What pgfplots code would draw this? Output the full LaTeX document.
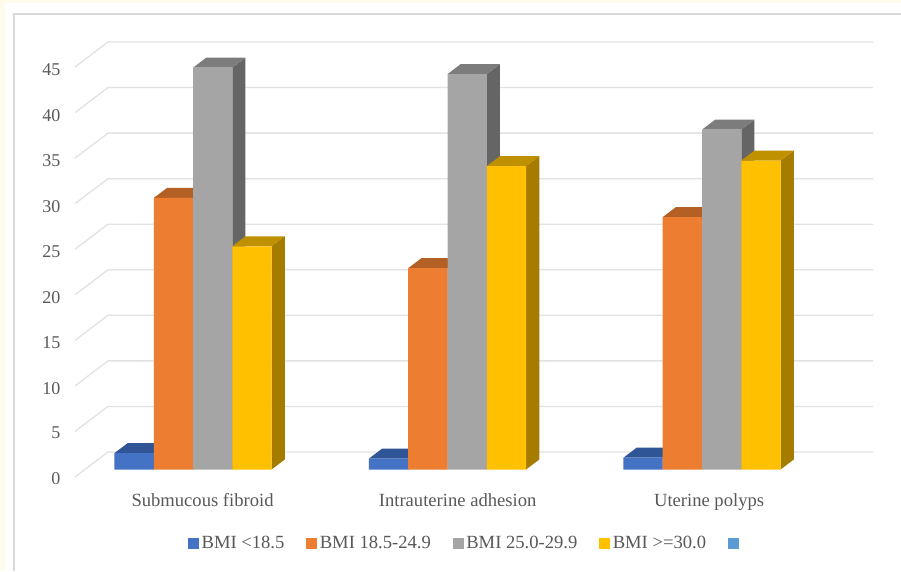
\documentclass[border=0pt]{standalone}
\usepackage{pgfplots}
\usepackage{pgfplotstable}
\usepackage{fontspec}
\setmainfont{Liberation Serif}
\pgfplotsset{compat=1.18}

\definecolor{txt}{HTML}{595959}
\definecolor{gridc}{HTML}{E2E2E2}
\definecolor{framec}{HTML}{D9D9D9}
\definecolor{creamc}{HTML}{FFFBEA}
\definecolor{blueF}{HTML}{4472C4}
\definecolor{blueT}{HTML}{2F5597}
\definecolor{orangeF}{HTML}{ED7D31}
\definecolor{orangeT}{HTML}{B45F23}
\definecolor{orangeS}{HTML}{9E5324}
\definecolor{grayF}{HTML}{A5A5A5}
\definecolor{grayT}{HTML}{7C7C7C}
\definecolor{grayS}{HTML}{656565}
\definecolor{yellowF}{HTML}{FFC000}
\definecolor{yellowT}{HTML}{BF9000}
\definecolor{yellowS}{HTML}{A67C00}
\definecolor{extraF}{HTML}{5B9BD5}

% left edge of each bar (category units) and its percentage
\pgfplotstableread{
left value
-0.384 1.8
0.614 1.2
1.612 1.3
}\seriesUnder
\pgfplotstableread{
left value
-0.230 29.8
0.768 22.1
1.766 27.7
}\seriesNormal
\pgfplotstableread{
left value
-0.076 44.1
0.922 43.4
1.920 37.3
}\seriesOver
\pgfplotstableread{
left value
0.078 24.5
1.076 33.3
2.074 33.9
}\seriesObese

% Draws one series as boxes: side, top, then front face of each bar
\newcommand{\drawseries}[4]{%
  \pgfplotstablegetrowsof{#1}%
  \pgfmathtruncatemacro{\lastrow}{\pgfplotsretval-1}%
  \pgfplotsforeachungrouped \rowi in {0,...,\lastrow}{%
    \pgfplotstablegetelem{\rowi}{left}\of{#1}\let\barL\pgfplotsretval
    \pgfplotstablegetelem{\rowi}{value}\of{#1}\let\barV\pgfplotsretval
    \pgfmathsetmacro{\barR}{\barL+0.154}%
    \edef\temp{%
      \noexpand\addplot3[forget plot,draw=none,fill=#4,mark=none] coordinates
        {(\barR,0.3,0)(\barR,0.7,0)(\barR,0.7,\barV)(\barR,0.3,\barV)(\barR,0.3,0)};
      \noexpand\addplot3[forget plot,draw=none,fill=#3,mark=none] coordinates
        {(\barL,0.3,\barV)(\barR,0.3,\barV)(\barR,0.7,\barV)(\barL,0.7,\barV)(\barL,0.3,\barV)};
      \noexpand\addplot3[forget plot,draw=none,fill=#2,mark=none] coordinates
        {(\barL,0.3,0)(\barR,0.3,0)(\barR,0.3,\barV)(\barL,0.3,\barV)(\barL,0.3,0)};
    }\temp
  }%
}

\begin{document}
\begin{tikzpicture}[x=1pt,y=1pt]
\useasboundingbox (0,0) rectangle (901,571);
% page surround and chart frame
\fill[creamc] (0,0) rectangle (901,571);
\fill[white] (5,0) rectangle (901,568);
\draw[framec,line width=1.1pt] (14,0) -- (14,557) -- (901,557);

\begin{axis}[
  at={(75pt,94pt)}, anchor=south west,
  x={(255pt,0pt)}, y={(33pt,25pt)}, z={(0pt,9.111pt)},
  xmin=-0.5, xmax=2.5, ymin=0, ymax=1, zmin=0, zmax=45,
  clip=false,
  axis line style={draw=none},
  tick style={draw=none},
  xtick={0.02,1.02,2.01},
  xticklabels={Submucous fibroid,Intrauterine adhesion,Uterine polyps},
  ytick=\empty,
  ztick={0,5,...,45},
  tick label style={font=\fontsize{18}{20}\selectfont, text=txt},
  x tick label style={yshift=-13pt, font=\fontsize{18.6}{20}\selectfont},
  z tick label style={xshift=-11pt, yshift=1.5pt},
  /pgf/number format/assume math mode=true,
  legend columns=5,
  legend cell align=left,
  legend style={
    at={(0.1416,-0.152)}, anchor=west, draw=none, fill=none,
    inner xsep=0pt, inner ysep=0pt,
    font=\fontsize{18.6}{20}\selectfont, text=txt,
    /tikz/every even column/.append style={column sep=20pt},
    /tikz/every odd column/.append style={column sep=1pt},
  },
  legend image code/.code={\fill[#1] (0pt,-5pt) rectangle (10pt,5pt);},
]
% wall and side grid lines
\pgfplotsinvokeforeach{0,5,...,45}{
  \addplot3[forget plot,gridc,line width=1.3pt,mark=none] coordinates
    {(-0.5,0,#1)(-0.5,1,#1)(2.5,1,#1)};
}
\drawseries{\seriesUnder}{blueF}{blueT}{blueT}
\drawseries{\seriesNormal}{orangeF}{orangeT}{orangeS}
\drawseries{\seriesOver}{grayF}{grayT}{grayS}
\drawseries{\seriesObese}{yellowF}{yellowT}{yellowS}

\addlegendimage{blueF}\addlegendentry{BMI <18.5}
\addlegendimage{orangeF}\addlegendentry{BMI 18.5-24.9}
\addlegendimage{grayF}\addlegendentry{BMI 25.0-29.9}
\addlegendimage{yellowF}\addlegendentry{BMI >=30.0}
\addlegendimage{extraF}\addlegendentry{}
\end{axis}
\end{tikzpicture}
\end{document}
